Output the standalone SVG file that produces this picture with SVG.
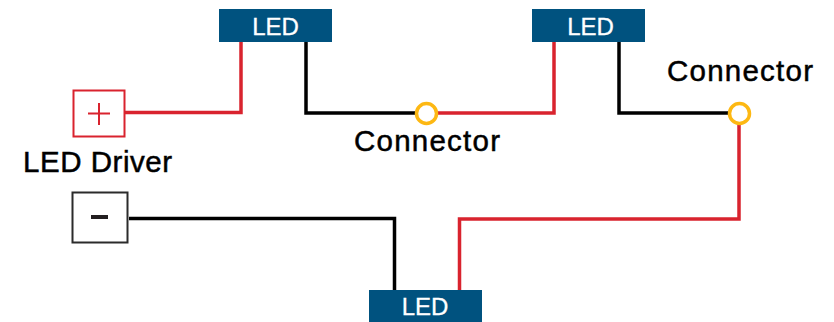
<svg xmlns="http://www.w3.org/2000/svg" width="834" height="322" viewBox="0 0 834 322">
<style>
text{font-family:"Liberation Sans",Arial,sans-serif}
.wire{fill:none;stroke-width:3.500;stroke-linejoin:miter}
.red{stroke:#d9232e}
.blk{stroke:#000}
.led{fill:#00527f}
.ledt{fill:#fff;font-size:24px;text-anchor:middle;stroke:#fff;stroke-width:.3}
.lbl{fill:#000;font-size:29.500px;stroke:#000;stroke-width:.5}
.conn{fill:#fff;stroke:#fdb813;stroke-width:3.500}
</style>
<rect width="834" height="322" fill="#fff"/>
<g id="connectors">
<path class="wire red" d="M125 112.500H241V42"/>
<path class="wire blk" d="M306 42V113H416"/>
<path class="wire red" d="M436 113H554V42"/>
<path class="wire blk" d="M619 42V113H729"/>
<path class="wire red" d="M739 123V219H459.500V290"/>
<path class="wire blk" d="M129 218.500H394.500V290"/>
</g>
<g id="driver-plus">
<rect x="73.500" y="90.500" width="51" height="46" fill="#fff" stroke="#d9232e" stroke-width="2"/>
<path d="M88 113.500H110M99 103V125" fill="none" stroke="#d9232e" stroke-width="2"/>
</g>
<g id="driver-label"><text class="lbl" x="23" y="172" textLength="149" lengthAdjust="spacing">LED Driver</text></g>
<g id="driver-minus">
<rect x="72.500" y="192.500" width="55" height="50" fill="#fff" stroke="#2b2b2b" stroke-width="2"/>
<rect x="91" y="215" width="17" height="4" fill="#231f20"/>
</g>
<g id="led-1"><rect class="led" x="219" y="9" width="113" height="33"/><text class="ledt" x="275.500" y="35">LED</text></g>
<g id="led-2"><rect class="led" x="532" y="9" width="113" height="33"/><text class="ledt" x="590.500" y="35">LED</text></g>
<g id="led-3"><rect class="led" x="369" y="290" width="113" height="32"/><text class="ledt" x="425" y="315">LED</text></g>
<g id="connector-1"><circle class="conn" cx="426.500" cy="113.500" r="10"/><text class="lbl" x="354" y="151" textLength="146" lengthAdjust="spacing">Connector</text></g>
<g id="connector-2"><circle class="conn" cx="739.500" cy="113.500" r="10"/><text class="lbl" x="667" y="81" textLength="146" lengthAdjust="spacing">Connector</text></g>
</svg>
